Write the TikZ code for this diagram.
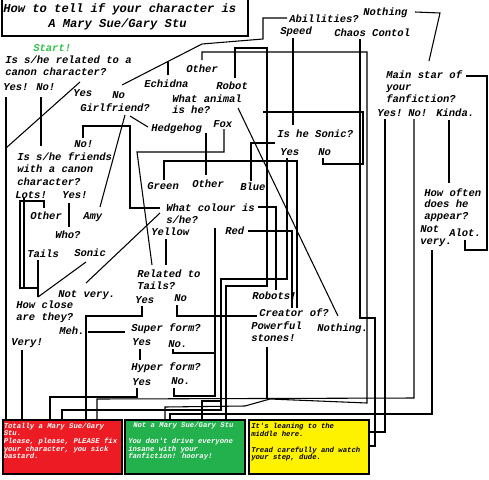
\documentclass[tikz,border=0pt]{standalone}
\usepackage{fontspec}
\newfontfamily\lmono{Liberation Mono}
\definecolor{pred}{HTML}{ED1C24}
\definecolor{pgreen}{HTML}{22B14C}
\definecolor{pyellow}{HTML}{FFF200}
\definecolor{startgreen}{HTML}{33C24D}
\tikzset{
  lbl/.style={anchor=base west, inner sep=0pt, font=\fontsize{7.9}{9}\selectfont\lmono\bfseries\itshape},
  ttl/.style={anchor=base west, inner sep=0pt, font=\fontsize{9.1}{11}\selectfont\lmono\bfseries\itshape},
  boxtxt/.style={anchor=base west, inner sep=0pt, font=\fontsize{5.45}{6}\selectfont\lmono\bfseries\itshape},
  ln/.style={draw=black, line width=0.8pt},
  endbox/.style={draw=black, line width=1.6pt, anchor=north west, inner sep=0pt, minimum width=90pt, minimum height=40.5pt},
}
\begin{document}
\begin{tikzpicture}[x=0.75pt,y=-0.75pt]
\useasboundingbox (0,0) rectangle (489,479);
\fill[white] (0,0) rectangle (489,479);

% title box
\node[draw=black, line width=1.2pt, anchor=north west, inner sep=0pt, minimum width=184.5pt, minimum height=27.75pt] (tbox) at (1,-2) {};
\node[ttl] (title1) at (3,12) {How to tell if your character is};
\node[ttl] (title2) at (48,27) {A Mary Sue/Gary Stu};

% end boxes
\node[endbox, fill=pred, minimum width=89.25pt] (rbox) at (1.5,419) {};
\node[endbox, fill=pgreen] (gbox) at (124,419) {};
\node[endbox, fill=pyellow] (ybox) at (247.5,419) {};

\node[boxtxt, white] (r1) at (3.5,428) {Totally a Mary Sue/Gary};
\node[boxtxt, white] (r2) at (3.5,435.5) {Stu.};
\node[boxtxt, white] (r3) at (3.5,443) {Please, please, PLEASE fix};
\node[boxtxt, white] (r4) at (3.5,451) {your character, you sick};
\node[boxtxt, white] (r5) at (3.5,458.5) {bastard.};

\node[boxtxt, white] (g1) at (133,427.5) {Not a Mary Sue/Gary Stu};
\node[boxtxt, white] (g2) at (128,443) {You don't drive everyone};
\node[boxtxt, white] (g3) at (128,451) {insane with your};
\node[boxtxt, white] (g4) at (128,458.5) {fanfiction! hooray!};

\node[boxtxt] (y1) at (251,428.5) {It's leaning to the};
\node[boxtxt] (y2) at (251,436) {middle here.};
\node[boxtxt] (y3) at (251,452) {Tread carefully and watch};
\node[boxtxt] (y4) at (251,459.5) {your step, dude.};

% labels
\node[lbl, text=startgreen] (start) at (33,51) {Start!};
\node[lbl] (q1a) at (5,63.5) {Is s/he related to a};
\node[lbl] (q1b) at (5,75.5) {canon character?};
\node[lbl] (q1y) at (3,90.5) {Yes!};
\node[lbl] (q1n) at (36,90.5) {No!};
\node[lbl] (gy) at (73,96.5) {Yes};
\node[lbl] (gn) at (112,98.5) {No};
\node[lbl] (gq) at (80,111.5) {Girlfriend?};
\node[lbl] (ech) at (144,87.5) {Echidna};
\node[lbl] (aoth) at (186,72.5) {Other};
\node[lbl] (rob) at (216,89.5) {Robot};
\node[lbl] (wa1) at (172,102.5) {What animal};
\node[lbl] (wa2) at (172,113.5) {is he?};
\node[lbl] (hed) at (151,131.5) {Hedgehog};
\node[lbl] (fox) at (213,127.5) {Fox};
\node[lbl] (fn) at (74,147.5) {No!};
\node[lbl] (f1) at (17,160.5) {Is s/he friends};
\node[lbl] (f2) at (17,172.5) {with a canon};
\node[lbl] (f3) at (17,185) {character?};
\node[lbl] (abl) at (289,22) {Abillities?};
\node[lbl] (spd) at (280,34.5) {Speed};
\node[lbl] (noth) at (363,15.5) {Nothing};
\node[lbl] (chaos) at (334,36.5) {Chaos Contol};
\node[lbl] (ms1) at (386,78.5) {Main star of};
\node[lbl] (ms2) at (386,90.5) {your};
\node[lbl] (ms3) at (386,102.5) {fanfiction?};
\node[lbl] (msy) at (377,116) {Yes!};
\node[lbl] (msn) at (408,116) {No!};
\node[lbl] (msk) at (436,116) {Kinda.};
\node[lbl] (son) at (277,137.5) {Is he Sonic?};
\node[lbl] (sy) at (280,155) {Yes};
\node[lbl] (sn) at (318,155) {No};
\node[lbl] (lots) at (15,198.5) {Lots!};
\node[lbl] (fy) at (62,198.5) {Yes!};
\node[lbl] (foth) at (30,219.5) {Other};
\node[lbl] (amy) at (83,219.5) {Amy};
\node[lbl] (who) at (55,238.5) {Who?};
\node[lbl] (tails) at (27,257.5) {Tails};
\node[lbl] (sonic) at (74,256.5) {Sonic};
\node[lbl] (notv) at (58,297.5) {Not very.};
\node[lbl] (hc1) at (16,308.5) {How close};
\node[lbl] (hc2) at (16,320) {are they?};
\node[lbl] (grn) at (147,189.5) {Green};
\node[lbl] (coth) at (192,187.5) {Other};
\node[lbl] (blue) at (240,190.5) {Blue};
\node[lbl] (wc1) at (166,211.5) {What colour is};
\node[lbl] (wc2) at (166,223.5) {s/he?};
\node[lbl] (yel) at (151,235.5) {Yellow};
\node[lbl] (red) at (225,234.5) {Red};
\node[lbl] (rt1) at (137,277.5) {Related to};
\node[lbl] (rt2) at (137,289.5) {Tails?};
\node[lbl] (rty) at (135,303.5) {Yes};
\node[lbl] (rtn) at (174,301.5) {No};
\node[lbl] (ho1) at (424,196.5) {How often};
\node[lbl] (ho2) at (424,207.5) {does he};
\node[lbl] (ho3) at (424,219.5) {appear?};
\node[lbl] (hnv1) at (420,232.5) {Not};
\node[lbl] (hnv2) at (420,244.5) {very.};
\node[lbl] (alot) at (449,236.5) {Alot.};
\node[lbl] (robs) at (252,299.5) {Robots!};
\node[lbl] (meh) at (59,334.5) {Meh.};
\node[lbl] (sup) at (131,331.5) {Super form?};
\node[lbl] (very) at (11,345.5) {Very!};
\node[lbl] (supy) at (132,345.5) {Yes};
\node[lbl] (supn) at (168,347.5) {No.};
\node[lbl] (hyp) at (131,370.5) {Hyper form?};
\node[lbl] (hypy) at (132,385.5) {Yes};
\node[lbl] (hypn) at (171,384.5) {No.};
\node[lbl] (cre) at (259,316.5) {Creator of?};
\node[lbl] (pow1) at (251,329.5) {Powerful};
\node[lbl] (pow2) at (251,341.5) {stones!};
\node[lbl] (nothd) at (317,331.5) {Nothing.};

% connector end points
\coordinate (a1) at (6,97);      \coordinate (a2) at (6,419);
\coordinate (b1) at (41,97);     \coordinate (b2) at (41,146);
\coordinate (c1) at (80,82);     \coordinate (c2) at (6,148);
\coordinate (d1) at (122,85);    \coordinate (d2) at (287,18);
\coordinate (e1) at (168,75);    \coordinate (e2) at (168,61.5);
\coordinate (f1a) at (202,60);   \coordinate (f1b) at (165,419);
\coordinate (g1a) at (235,78);   \coordinate (g1b) at (226,419);
\coordinate (h1) at (125,115);   \coordinate (h2) at (100,207);
\coordinate (i1) at (130,116);   \coordinate (i2) at (148,127);
\coordinate (j1) at (83,138);    \coordinate (j2) at (160,208);
\coordinate (k1) at (206,133);   \coordinate (k2) at (206,175);
\coordinate (l1) at (224,129);   \coordinate (l2) at (152,265);
\coordinate (m1) at (164,180);   \coordinate (m2) at (297,308);
\coordinate (n1) at (251,181);   \coordinate (n2) at (275,143);
\coordinate (o1) at (287,158);   \coordinate (o2) at (62,419);
\coordinate (p1) at (323,158);   \coordinate (p2) at (263,112);
\coordinate (s1) at (293,38);    \coordinate (s2) at (293,125);
\coordinate (u1) at (360,39);    \coordinate (u2) at (369,446);
\coordinate (v1) at (238,108);   \coordinate (v2) at (338,316);
\coordinate (w1) at (248,231);   \coordinate (w2) at (292,308);
\coordinate (x1) at (258,207);   \coordinate (x2) at (276,290);
\coordinate (y1a) at (415,12);   \coordinate (y1b) at (429,61);
\coordinate (z1) at (465,240);   \coordinate (z2) at (466,76);
\coordinate (k3) at (449,120);   \coordinate (k4) at (449,183);
\coordinate (ya) at (385,119);   \coordinate (yb) at (369,432);
\coordinate (na) at (414,119);   \coordinate (nb) at (97,419);
\coordinate (br1) at (221,401);  \coordinate (br2) at (202,419);
\coordinate (st1) at (267,347);  \coordinate (st2) at (267,398);
\coordinate (nv1) at (432,250);  \coordinate (nv2) at (170,419);
\coordinate (fy1) at (69,203);   \coordinate (fy2) at (69,227);
\coordinate (ot1) at (44,208);   \coordinate (ot2) at (38,288);
\coordinate (lo1) at (24,198);   \coordinate (lo2) at (24,288);
\coordinate (ta1) at (38,260);   \coordinate (ta2) at (38,297);
\coordinate (so1) at (86,262);
\coordinate (nt1) at (86,283);   \coordinate (nt2) at (160,213);
\coordinate (ye1) at (166,239);  \coordinate (ye2) at (166,265);
\coordinate (ry1) at (142,306);  \coordinate (ry2) at (86,419);
\coordinate (rn1) at (177,305);  \coordinate (rn2) at (257,316);
\coordinate (me1) at (88,332);   \coordinate (me2) at (125,332);
\coordinate (sy1) at (140,349);  \coordinate (sy2) at (140,360);
\coordinate (hy1) at (137,388);  \coordinate (hy2) at (50,419);
\coordinate (sn1) at (173,349);  \coordinate (sn2) at (215,353);
\coordinate (hn1) at (174,388);  \coordinate (hn2) at (215,228);
\coordinate (ve1) at (22,350);   \coordinate (ve2) at (22,419);

% connectors
\draw[ln] (a1) -- (a2);
\draw[ln] (b1) -- (b2);
\draw[ln] (c1) -- (c2);
\draw[ln] (d1) -- (202,44) -- (263,39) -- (263,18) -- (d2);
\draw[ln] (e1) -- (e2);
\draw[ln] (f1a) -- (202,52) -- (367,52) -- (367,403) -- (270,399) -- (245,406) -- (165,407) -- (f1b);
\draw[ln] (g1a) -- (235,48) -- (267,48) -- (267,286) -- (226,286) -- (g1b);
\draw[ln] (h1) -- (h2);
\draw[ln] (i1) -- (i2);
\draw[ln] (j1) -- (83,126) -- (130,126) -- (130,208) -- (j2);
\draw[ln] (k1) -- (k2);
\draw[ln] (l1) -- (224,152) -- (137,152) -- (l2);
\draw[ln] (m1) -- (164,161) -- (297,161) -- (m2);
\draw[ln] (n1) -- (251,143) -- (n2);
\draw[ln] (o1) -- (287,279) -- (221,279) -- (221,410) -- (62,410) -- (o2);
\draw[ln] (p1) -- (323,164) -- (363,164) -- (363,112) -- (p2);
\draw[ln] (s1) -- (s2);
\draw[ln] (u1) -- (360,318) -- (375,318) -- (375,446) -- (u2);
\draw[ln] (v1) -- (v2);
\draw[ln] (w1) -- (292,231) -- (w2);
\draw[ln] (x1) -- (276,207) -- (x2);
\draw[ln] (y1a) -- (440,13) -- (y1b);
\draw[ln] (z1) -- (465,250) -- (487,250) -- (487,76) -- (z2);
\draw[ln] (k3) -- (k4);
\draw[ln] (ya) -- (385,432) -- (yb);
\draw[ln] (na) -- (414,398) -- (97,399) -- (nb);
\draw[ln] (br1) -- (202,401) -- (br2);
\draw[ln] (st1) -- (st2);
\draw[ln] (nv1) -- (432,414) -- (170,414) -- (nv2);
\draw[ln] (fy1) -- (fy2);
\draw[ln] (ot1) -- (44,201) -- (20,201) -- (20,288) -- (ot2);
\draw[ln] (lo1) -- (lo2);
\draw[ln] (ta1) -- (ta2);
\draw[ln] (so1) -- (ta2);
\draw[ln] (nt1) -- (nt2);
\draw[ln] (ye1) -- (ye2);
\draw[ln] (ry1) -- (142,316) -- (86,316) -- (ry2);
\draw[ln] (rn1) -- (177,316) -- (rn2);
\draw[ln] (me1) -- (me2);
\draw[ln] (sy1) -- (sy2);
\draw[ln] (hy1) -- (137,397) -- (50,397) -- (hy2);
\draw[ln] (sn1) -- (173,353) -- (sn2);
\draw[ln] (hn1) -- (174,396) -- (215,396) -- (hn2);
\draw[ln] (ve1) -- (ve2);
\end{tikzpicture}
\end{document}
